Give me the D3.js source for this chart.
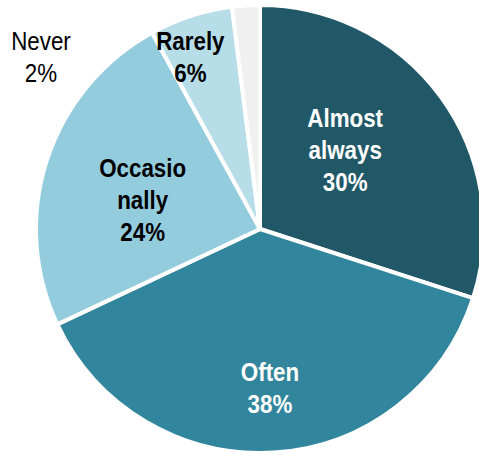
<!DOCTYPE html>
<html>
<head>
<meta charset="utf-8">
<script src="https://cdn.jsdelivr.net/npm/d3@7"></script>
<style>
  html, body { margin: 0; padding: 0; background: #fff; }
  svg { display: block; }
  text { font-family: "Liberation Sans Narrow", "Arial Narrow", "Liberation Sans", Arial, sans-serif; }
</style>
</head>
<body>
<svg id="chart"></svg>
<script>
// data
const categories = ['Almost always', 'Often', 'Occasionally', 'Rarely', 'Never'];
const labelLines = [['Almost', 'always'], ['Often'], ['Occasio', 'nally'], ['Rarely'], ['Never']];
const shares = [30, 38, 24, 6, 2];
const sliceColors = ['#215868', '#31859c', '#93cddd', '#b7dee8', '#f0f0f0'];
const textColors = ['#fff', '#fff', '#000', '#000', '#000'];

const totalWidth = 479;
const totalHeight = 453;
const cx = 260;
const cy = 229;
const radius = 224;
const LINE_H = 32;
const NARROW = 0.86; // no condensed font installed, squeeze the regular one

// label distance from centre, as a fraction of the radius, and a small angle nudge
const labelPos = [
  { r: 0.52, da: -7 },
  { r: 0.71, da: 0 },
  { r: 0.54, da: -4 },
  { r: 0.83, da: -4 },
  null
];

const svg = d3.select('#chart')
  .attr('width', totalWidth)
  .attr('height', totalHeight)
  .attr('viewBox', `0 0 ${totalWidth} ${totalHeight}`);

const pie = d3.pie().sort(null).value((d) => d);
const arcs = pie(shares);

const arc = d3.arc().innerRadius(0).outerRadius(radius);

const g = svg.append('g').attr('transform', `translate(${cx}, ${cy})`);

g.selectAll('.slice')
  .data(arcs)
  .enter()
  .append('path')
  .attr('class', 'slice')
  .attr('d', arc)
  .attr('fill', (d, i) => sliceColors[i])
  .attr('stroke', '#fff')
  .attr('stroke-width', 4)
  .attr('stroke-linejoin', 'miter');

/* labels */
arcs.forEach(function (d, i) {
  const pos = labelPos[i];
  let x, y, weight = 'bold';
  if (pos) {
    const a = (d.startAngle + d.endAngle) / 2 + (pos.da * Math.PI) / 180;
    x = Math.sin(a) * radius * pos.r;
    y = -Math.cos(a) * radius * pos.r;
  } else {
    // small slice: label sits outside, top left
    x = 41 - cx;
    y = 57 - cy;
    weight = 'normal';
  }
  const lines = labelLines[i].concat([shares[i] + '%']);
  const t = g.append('text')
    .attr('transform', `translate(${x}, ${y}) scale(${NARROW}, 1)`)
    .attr('text-anchor', 'middle')
    .attr('font-size', 26)
    .attr('font-weight', weight)
    .attr('fill', textColors[i]);
  lines.forEach(function (line, k) {
    t.append('tspan')
      .attr('x', 0)
      .attr('y', (k - (lines.length - 1) / 2) * LINE_H)
      .attr('dy', '0.35em')
      .text(line);
  });
});
</script>
</body>
</html>
